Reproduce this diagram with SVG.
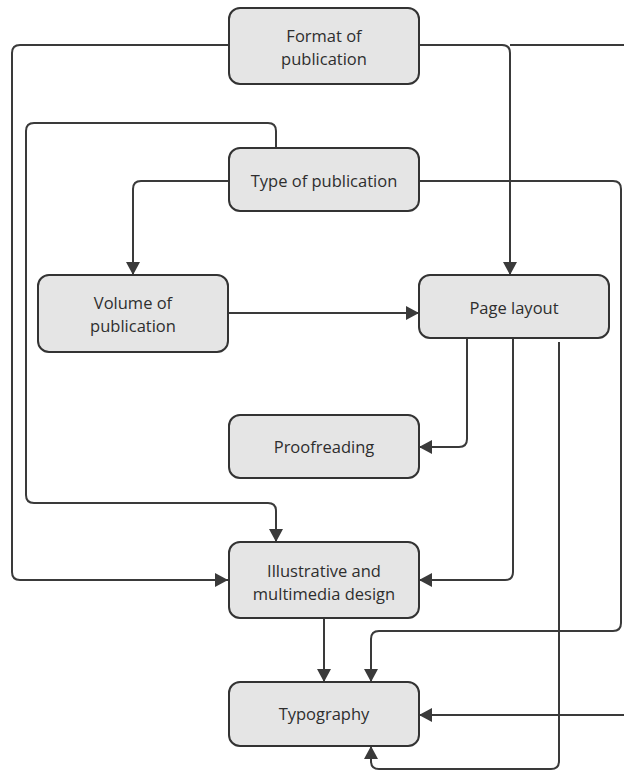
<svg xmlns="http://www.w3.org/2000/svg" width="624" height="771" viewBox="0 0 624 771">
<style>
.box{fill:#e5e5e5;stroke:#333;stroke-width:2}
.lbl{font-family:"Open Sans","Noto Sans",sans-serif;font-size:16.5px;fill:#2e2e2e;text-anchor:middle}
.c{fill:none;stroke:#3a3a3a;stroke-width:2;marker-end:url(#ah)}
</style>
<defs>
<marker id="ah" markerWidth="14" markerHeight="14" refX="13" refY="7" orient="auto" markerUnits="userSpaceOnUse">
<path d="M0,0 L13,7 L0,14 z" fill="#3a3a3a"/>
</marker>
</defs>
<rect width="624" height="771" fill="#fff"/>
<g id="connectors">
<path class="c" d="M228,45 H20 Q12,45 12,53 V572 Q12,580 20,580 H228"/>
<path class="c" d="M419,45 H502 Q510,45 510,53 V275"/>
<path class="c" d="M510,45 H630 V715 H419"/>
<path class="c" d="M276,148 V131 Q276,123 268,123 H34 Q26,123 26,131 V495 Q26,503 34,503 H268 Q276,503 276,511 V542"/>
<path class="c" d="M228,181 H141 Q133,181 133,189 V275"/>
<path class="c" d="M419,181 H613 Q621,181 621,189 V623 Q621,631 613,631 H379 Q371,631 371,639 V682"/>
<path class="c" d="M228,313 H419"/>
<path class="c" d="M467,338 V439 Q467,447 459,447 H419"/>
<path class="c" d="M513,338 V572 Q513,580 505,580 H419"/>
<path class="c" d="M559,342 V761 Q559,769 551,769 H379 Q371,769 371,761 V746"/>
<path class="c" d="M324,618 V682"/>
</g>
<g id="format">
<rect class="box" x="229" y="8" width="190" height="76" rx="11"/>
<text class="lbl" x="324" y="42">Format of</text>
<text class="lbl" x="324" y="65">publication</text>
</g>
<g id="type">
<rect class="box" x="229" y="148" width="190" height="63" rx="11"/>
<text class="lbl" x="324" y="187">Type of publication</text>
</g>
<g id="volume">
<rect class="box" x="38" y="275" width="190" height="77" rx="11"/>
<text class="lbl" x="133" y="309">Volume of</text>
<text class="lbl" x="133" y="332">publication</text>
</g>
<g id="page">
<rect class="box" x="419" y="275" width="190" height="63" rx="11"/>
<text class="lbl" x="514" y="314">Page layout</text>
</g>
<g id="proof">
<rect class="box" x="229" y="415" width="190" height="63" rx="11"/>
<text class="lbl" x="324" y="453">Proofreading</text>
</g>
<g id="illus">
<rect class="box" x="229" y="542" width="190" height="76" rx="11"/>
<text class="lbl" x="324" y="577">Illustrative and</text>
<text class="lbl" x="324" y="600">multimedia design</text>
</g>
<g id="typo">
<rect class="box" x="229" y="682" width="190" height="64" rx="11"/>
<text class="lbl" x="324" y="720">Typography</text>
</g>
</svg>
